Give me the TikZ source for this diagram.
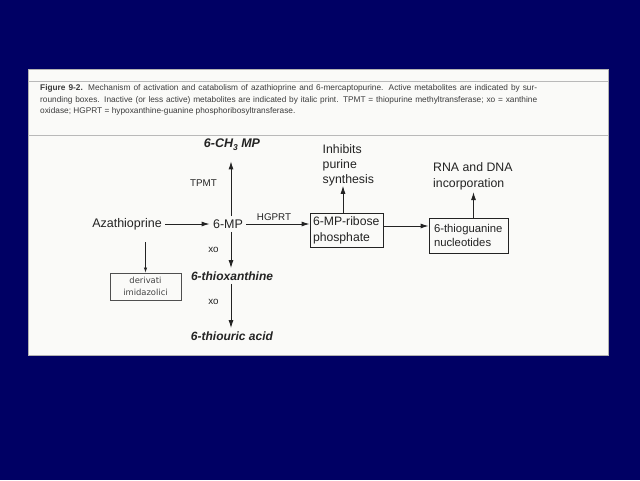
\documentclass[tikz,border=0pt]{standalone}
\usepackage{fontspec}
\setmainfont{Liberation Sans}
\newfontfamily\dejavu{DejaVu Sans}
\usetikzlibrary{arrows.meta}
\definecolor{navy}{RGB}{0,0,100}
\definecolor{ink}{RGB}{35,35,35}
\definecolor{capink}{RGB}{60,60,60}
\definecolor{paper}{RGB}{250,250,248}
\begin{document}
\begin{tikzpicture}[x=1pt,y=-1pt,
  lbl/.style={text=ink,inner sep=3.3pt},
  big/.style={lbl,font=\fontsize{12.5}{15}\selectfont},
  met/.style={lbl,font=\fontsize{12}{14}\selectfont\bfseries\itshape},
  enz/.style={lbl,font=\fontsize{9.8}{12}\selectfont},
  captxt/.style={text=capink,inner sep=0pt,anchor=west,font=\fontsize{8.3}{9}\selectfont},
  box/.style={big,draw=ink,line width=0.9pt,align=left,inner xsep=3pt},
  arr/.style={draw=ink,line width=0.9pt,-{Latex[length=8pt,width=5pt]}},
  sarr/.style={draw=ink,line width=0.6pt,-{Latex[length=5pt,width=3.2pt]}},
]
\fill[navy] (0,0) rectangle (640,480);
\useasboundingbox (0,0) rectangle (640,480);
% paper panel
\fill[paper] (28,69) rectangle (608,355);
\draw[gray!60,line width=1pt] (28,69) rectangle (608,355);
\draw[gray!55,line width=0.8pt] (28,81) -- (608,81);
\draw[gray!55,line width=0.8pt] (28,135) -- (608,135);
% caption
\node[captxt] (c1) at (40,88.7) {\makebox[497pt][s]{\textbf{Figure 9-2.} Mechanism of activation and catabolism of azathioprine and 6-mercaptopurine. Active metabolites are indicated by sur-}};
\node[captxt] (c2) at (40,100.3) {\makebox[497pt][s]{rounding boxes. Inactive (or less active) metabolites are indicated by italic print. TPMT = thiopurine methyltransferase; xo = xanthine}};
\node[captxt] (c3) at (40,111.3) {oxidase; HGPRT = hypoxanthine-guanine phosphoribosyltransferase.};
% nodes
\node[big] (aza) at (127,224) {Azathioprine};
\node[big] (mp) at (228,224) {6-MP};
\node[met,font=\fontsize{12.5}{14}\selectfont\bfseries\itshape] (ch3) at (232,145) {6-CH\raisebox{-3pt}{\fontsize{8.5}{9}\selectfont 3} MP};
\node[met] (thx) at (232,276) {6-thioxanthine};
\node[met] (tua) at (232,336) {6-thiouric acid};
\node[box,minimum width=73pt,minimum height=32pt,text width=67pt,
      font=\fontsize{12.2}{16}\selectfont] (b1) at (346.5,230) {6-MP-ribose\\phosphate};
\node[box,minimum width=79pt,minimum height=35pt,text width=69pt,inner xsep=2pt,
      font=\fontsize{11.3}{14.5}\selectfont] (b2) at (468.5,235.5) {6-thioguanine\\nucleotides};
\node[big,anchor=north west,align=left,inner sep=0pt,font=\fontsize{12.3}{14.7}\selectfont] (inh) at (322.5,144.5) {Inhibits\\purine\\synthesis};
\node[big,anchor=north west,align=left,inner sep=0pt,font=\fontsize{12.3}{15.7}\selectfont] (rna) at (433,162.5) {RNA and DNA\\incorporation};
\node[draw=ink!80,line width=0.7pt,minimum width=71pt,minimum height=27pt,
      align=center,text=ink!85,font=\dejavu\fontsize{8.4}{11.5}\selectfont] (der) at (145.5,286.5) {derivati\\imidazolici};
% enzyme labels
\node[enz] (tpmt) at (203.5,183.3) {TPMT};
\node[enz] (hgprt) at (274,216.7) {HGPRT};
\node[enz] (xo1) at (213.5,250) {xo};
\node[enz] (xo2) at (213.5,301.5) {xo};
% connectors
\draw[arr] (aza.east) -- (mp.west);
\draw[arr] (mp.east) -- (mp.east -| b1.west);
\draw[arr] ([yshift=4pt]b1.east) -- ([yshift=4pt]b1.east -| b2.west);
\draw[arr,shorten >=7pt] ([xshift=3pt]mp.north) -- ([xshift=3pt]mp.north |- ch3.south);
\draw[arr] ([xshift=3pt]mp.south) -- ([xshift=3pt]mp.south |- thx.north);
\draw[arr] ([xshift=-1pt]thx.south) -- ([xshift=-1pt]thx.south |- tua.north);
\draw[arr] ([xshift=-3.5pt]b1.north) -- ([xshift=-3.5pt]b1.north |- inh.south);
\draw[arr,shorten >=2pt] ([xshift=5pt]b2.north) -- ([xshift=5pt]b2.north |- rna.south);
\draw[sarr,shorten <=9pt] (aza.south -| der.north) -- (der.north);
\end{tikzpicture}
\end{document}
